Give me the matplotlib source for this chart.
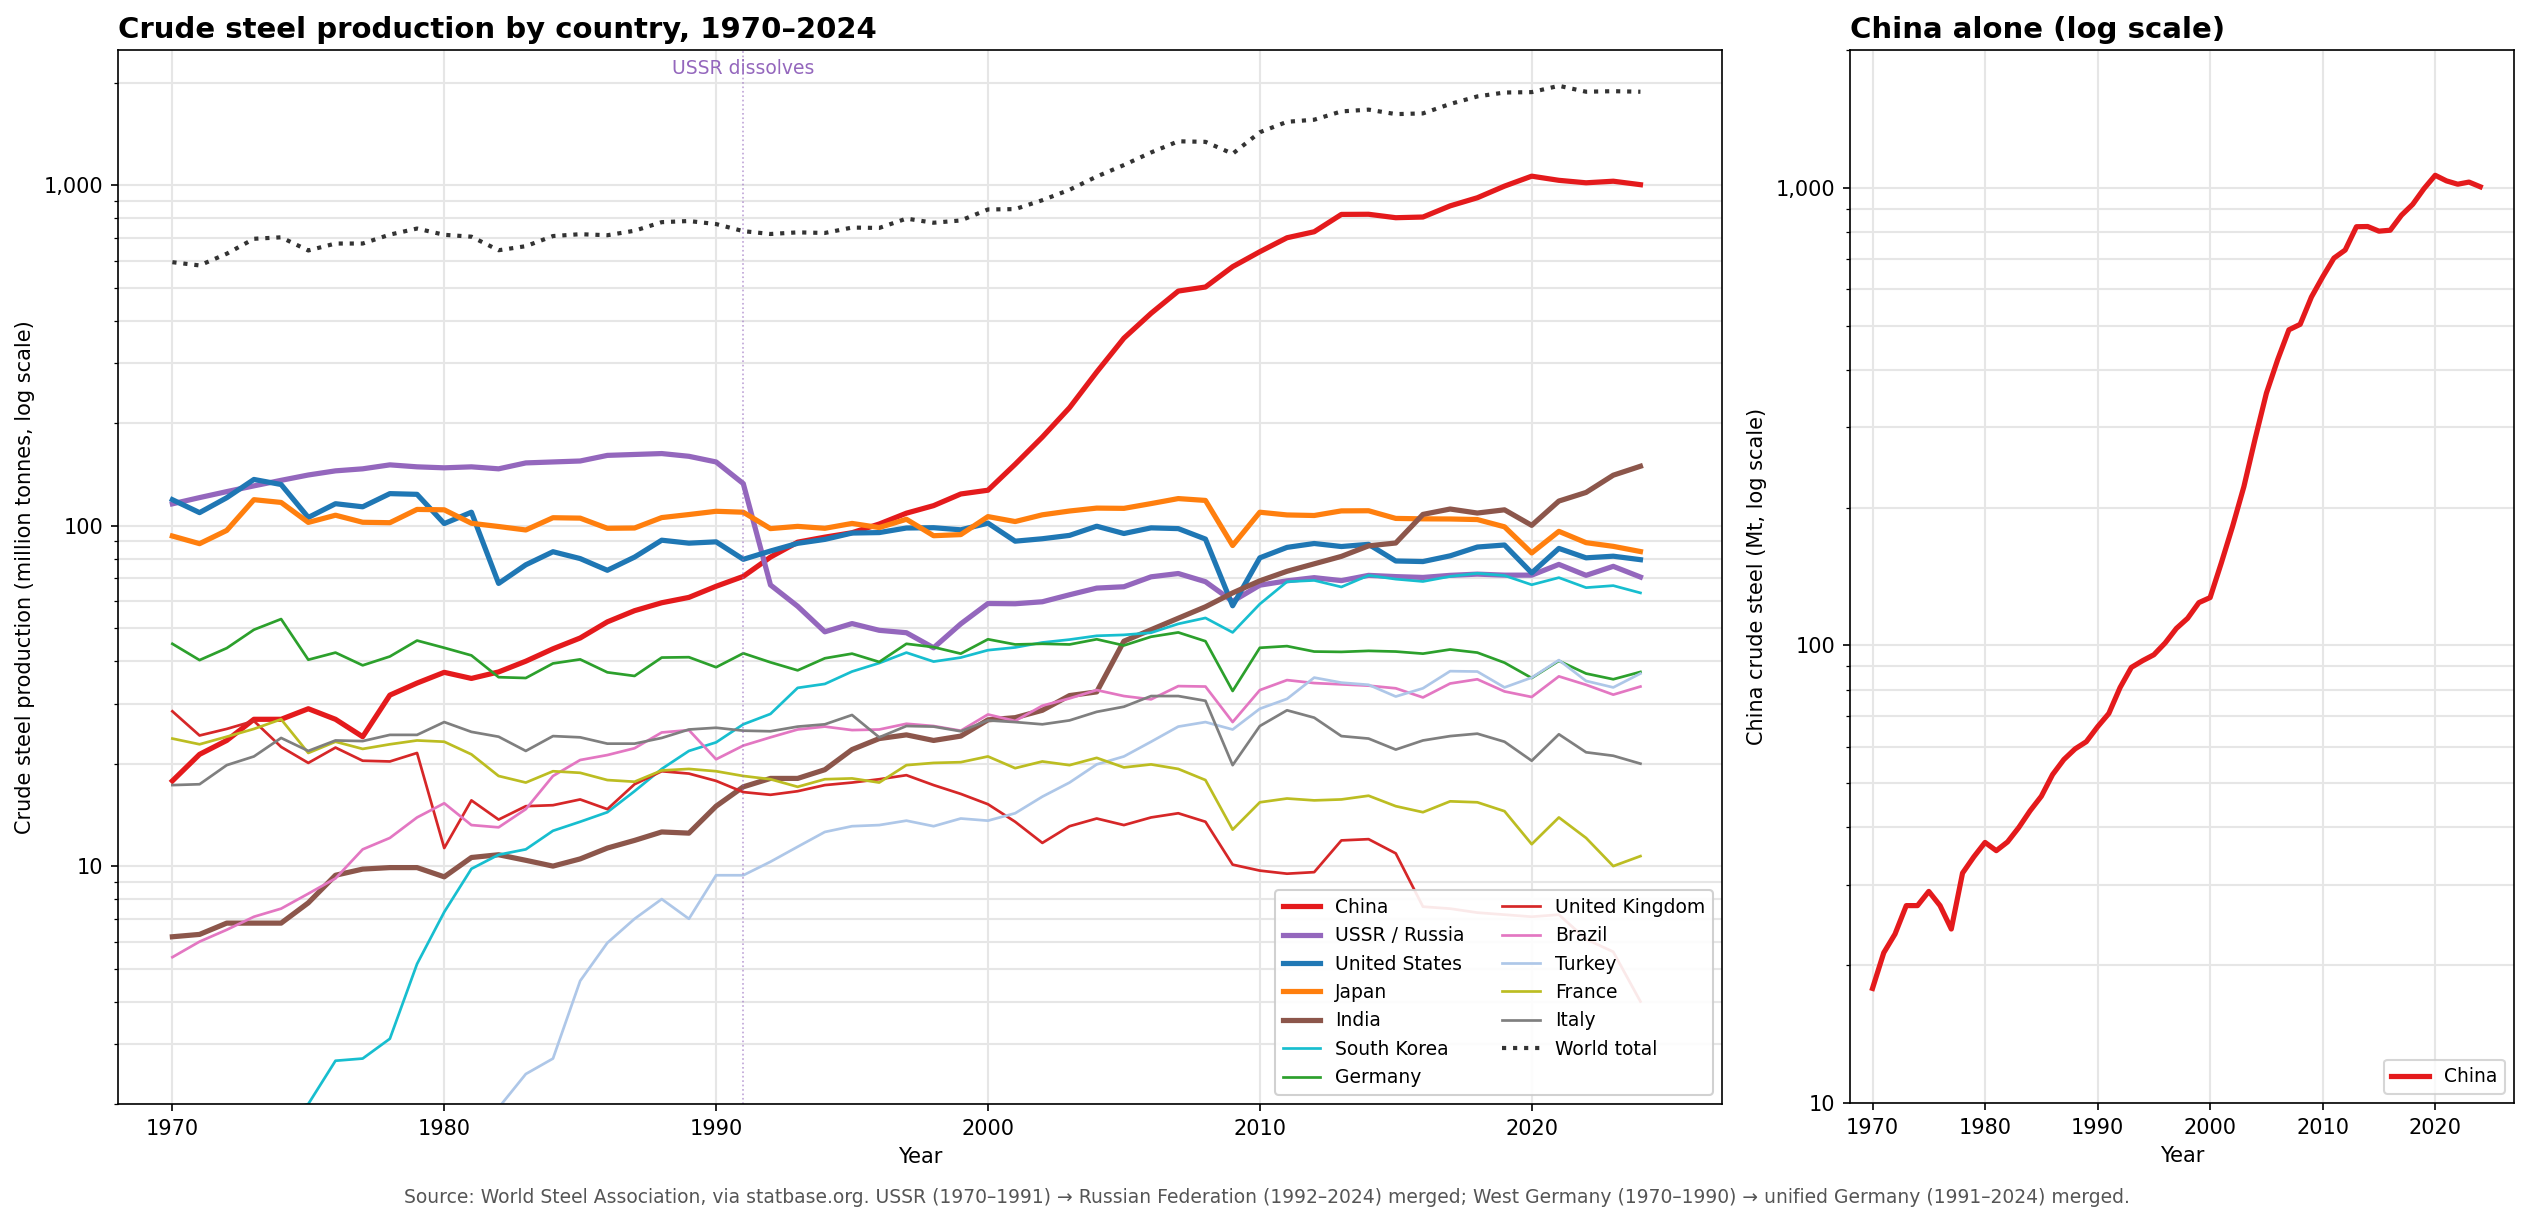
import numpy as np
import matplotlib
matplotlib.use("Agg")
import matplotlib.pyplot as plt
from matplotlib.ticker import FuncFormatter, LogLocator, NullFormatter

years = list(range(1970, 2025))

china = [17.8, 21.3, 23.4, 27.0, 27.0, 29.0, 27.0, 24.0, 31.8, 34.5,
         37.1, 35.6, 37.2, 40.0, 43.5, 46.8, 52.2, 56.3, 59.4, 61.6,
         66.4, 71.0, 80.9, 89.5, 92.6, 95.4, 101.2, 108.9, 114.6, 124.0,
         127.2, 151.6, 182.2, 222.3, 282.9, 355.8, 421.0, 489.3, 503.0, 577.1,
         638.7, 701.9, 731.0, 822.0, 822.8, 803.8, 807.6, 870.9, 920.0, 995.4,
         1064.7, 1035.2, 1018.0, 1029.0, 1005.1]
ussr_russia = [116, 121, 126, 131, 136, 141, 145, 147, 151, 149,
               148, 149, 147, 153, 154, 155, 161, 162, 163, 160,
               154, 133, 67, 58, 48.8, 51.6, 49.3, 48.5, 43.8, 51.5,
               59.1, 59.0, 59.8, 62.7, 65.6, 66.2, 70.8, 72.4, 68.5, 60.0,
               66.9, 68.9, 70.4, 69.0, 71.5, 70.9, 70.5, 71.5, 72.1, 71.6,
               71.6, 77.0, 71.5, 76.0, 70.7]
united_states = [119.3, 109.3, 120.9, 136.8, 132.2, 105.8, 116.1, 113.7, 124.3, 123.7,
                 101.5, 109.6, 67.7, 76.8, 83.9, 80.1, 74.0, 80.9, 90.7, 88.9,
                 89.7, 79.7, 84.3, 88.8, 91.2, 95.2, 95.5, 98.5, 98.7, 97.3,
                 101.8, 90.1, 91.6, 93.7, 99.7, 94.9, 98.6, 98.1, 91.4, 58.2,
                 80.5, 86.4, 88.7, 86.9, 88.2, 78.8, 78.5, 81.6, 86.6, 87.8,
                 72.7, 85.8, 80.5, 81.4, 79.5]
japan = [93.3, 88.6, 96.9, 119.3, 117.1, 102.3, 107.4, 102.4, 102.1, 111.7,
         111.4, 101.7, 99.5, 97.2, 105.6, 105.3, 98.3, 98.5, 105.7, 107.9,
         110.3, 109.6, 98.1, 99.6, 98.3, 101.6, 98.8, 104.5, 93.5, 94.2,
         106.4, 102.9, 107.7, 110.5, 112.7, 112.5, 116.2, 120.2, 118.7, 87.5,
         109.6, 107.6, 107.2, 110.6, 110.7, 105.1, 104.8, 104.7, 104.3, 99.3,
         83.2, 96.3, 89.2, 87.0, 84.0]
india = [6.2, 6.3, 6.8, 6.8, 6.8, 7.8, 9.4, 9.8, 9.9, 9.9,
         9.3, 10.6, 10.8, 10.4, 10.0, 10.5, 11.3, 11.9, 12.6, 12.5,
         15.0, 17.1, 18.1, 18.1, 19.2, 22.0, 23.7, 24.3, 23.4, 24.1,
         26.9, 27.3, 28.7, 31.7, 32.5, 45.8, 49.5, 53.5, 57.8, 63.5,
         68.9, 73.5, 77.3, 81.3, 87.3, 89.0, 108.0, 112.0, 109.0, 111.4,
         100.3, 118.2, 125.3, 140.8, 149.6]
south_korea = [0.5, 0.5, 0.6, 1.2, 1.9, 2.0, 2.68, 2.72, 3.11, 5.16,
               7.33, 9.82, 10.8, 11.2, 12.7, 13.5, 14.4, 16.6, 19.3, 21.8,
               23.1, 26.1, 28.0, 33.4, 34.3, 37.3, 39.5, 42.4, 39.9, 41.0,
               43.1, 43.9, 45.4, 46.3, 47.5, 47.8, 48.5, 51.5, 53.6, 48.6,
               58.9, 68.5, 69.1, 66.1, 71.5, 69.7, 68.6, 71.0, 72.5, 71.4,
               67.1, 70.4, 65.8, 66.7, 63.5]
germany = [45.0, 40.3, 43.7, 49.5, 53.2, 40.4, 42.4, 38.9, 41.3, 46.0,
           43.8, 41.6, 35.9, 35.7, 39.4, 40.5, 37.1, 36.2, 41.0, 41.1,
           38.4, 42.2, 39.7, 37.6, 40.8, 42.1, 39.8, 45.0, 44.0, 42.1,
           46.4, 44.8, 45.0, 44.8, 46.4, 44.5, 47.2, 48.6, 45.8, 32.7,
           43.8, 44.3, 42.7, 42.6, 42.9, 42.7, 42.1, 43.3, 42.4, 39.6,
           35.7, 40.1, 36.8, 35.4, 37.2]
united_kingdom = [28.5, 24.2, 25.3, 26.7, 22.4, 20.1, 22.3, 20.4, 20.3, 21.5,
                  11.3, 15.6, 13.7, 15.0, 15.1, 15.7, 14.7, 17.4, 19.0, 18.7,
                  17.8, 16.5, 16.2, 16.6, 17.3, 17.6, 18.0, 18.5, 17.3, 16.3,
                  15.2, 13.5, 11.7, 13.1, 13.8, 13.2, 13.9, 14.3, 13.5, 10.1,
                  9.7, 9.5, 9.6, 11.9, 12.0, 10.9, 7.6, 7.5, 7.3, 7.2,
                  7.1, 7.2, 6.1, 5.6, 4.0]
brazil = [5.4, 6.0, 6.5, 7.1, 7.5, 8.3, 9.2, 11.2, 12.1, 13.9,
          15.3, 13.2, 13.0, 14.7, 18.4, 20.5, 21.2, 22.2, 24.7, 25.1,
          20.6, 22.6, 23.9, 25.2, 25.7, 25.1, 25.2, 26.2, 25.8, 25.0,
          27.9, 26.7, 29.6, 31.1, 32.9, 31.6, 30.9, 33.8, 33.7, 26.5,
          32.9, 35.2, 34.5, 34.2, 33.9, 33.3, 31.3, 34.4, 35.4, 32.6,
          31.4, 36.1, 34.1, 31.9, 33.7]
turkey = [1.3, 1.3, 1.4, 1.4, 1.5, 1.6, 1.6, 1.6, 1.7, 1.7,
          1.7, 1.8, 1.95, 2.45, 2.72, 4.6, 5.95, 7.0, 8.0, 7.0,
          9.4, 9.4, 10.3, 11.4, 12.6, 13.1, 13.2, 13.6, 13.1, 13.8,
          13.6, 14.3, 16.0, 17.6, 19.9, 21.0, 23.2, 25.7, 26.5, 25.2,
          29.0, 31.0, 35.8, 34.6, 34.1, 31.5, 33.3, 37.4, 37.3, 33.5,
          35.8, 40.3, 35.0, 33.5, 36.8]
france = [23.7, 22.8, 24.0, 25.3, 27.0, 21.5, 23.2, 22.1, 22.8, 23.4,
          23.2, 21.3, 18.4, 17.6, 19.0, 18.8, 17.9, 17.7, 19.1, 19.3,
          19.0, 18.4, 18.0, 17.1, 18.0, 18.1, 17.6, 19.8, 20.1, 20.2,
          21.0, 19.4, 20.3, 19.8, 20.8, 19.5, 19.9, 19.3, 17.9, 12.8,
          15.4, 15.8, 15.6, 15.7, 16.1, 15.0, 14.4, 15.5, 15.4, 14.5,
          11.6, 13.9, 12.1, 10.0, 10.7]
italy = [17.3, 17.4, 19.8, 21.0, 23.8, 21.8, 23.4, 23.3, 24.3, 24.3,
         26.5, 24.8, 24.0, 21.8, 24.1, 23.9, 22.9, 22.9, 23.8, 25.2,
         25.5, 25.0, 24.9, 25.7, 26.1, 27.8, 23.9, 25.8, 25.7, 24.9,
         26.8, 26.5, 26.1, 26.8, 28.4, 29.4, 31.6, 31.6, 30.6, 19.8,
         25.8, 28.7, 27.3, 24.1, 23.7, 22.0, 23.4, 24.1, 24.5, 23.2,
         20.4, 24.4, 21.6, 21.1, 20.0]
world_total = [595, 582, 630, 697, 704, 644, 675, 675, 717, 747,
               716, 707, 645, 663, 710, 719, 714, 736, 780, 786,
               770, 734, 720, 728, 725, 752, 750, 799, 777, 789,
               850, 852, 905, 971, 1062, 1148, 1250, 1348, 1343, 1239,
               1433, 1538, 1560, 1650, 1670, 1620, 1628, 1735, 1826, 1875,
               1880, 1962, 1885, 1892, 1885]

series = [
    ("China", china, "#e41a1c", 2.5),
    ("USSR / Russia", ussr_russia, "#9467bd", 2.5),
    ("United States", united_states, "#1f77b4", 2.5),
    ("Japan", japan, "#ff7f0e", 2.5),
    ("India", india, "#8c564b", 2.5),
    ("South Korea", south_korea, "#17becf", 1.3),
    ("Germany", germany, "#2ca02c", 1.3),
    ("United Kingdom", united_kingdom, "#d62728", 1.3),
    ("Brazil", brazil, "#e377c2", 1.3),
    ("Turkey", turkey, "#aec7e8", 1.3),
    ("France", france, "#bcbd22", 1.3),
    ("Italy", italy, "#7f7f7f", 1.3),
]

W, H, DPI = 2533, 1223, 150
fig = plt.figure(figsize=(W / DPI, H / DPI), dpi=DPI)

ax1 = fig.add_axes([118 / W, 119 / H, (1722 - 118) / W, (1104 - 50) / H])
ax2 = fig.add_axes([1850 / W, 120 / H, (2514 - 1850) / W, (1103 - 50) / H])

comma = FuncFormatter(lambda v, p: f"{v:,.0f}")

for name, vals, col, lw in series:
    ax1.plot(years, vals, color=col, lw=lw, label=name)
ax1.plot(years, world_total, color="#333333", lw=2.0, ls=":", label="World total")

ax1.axvline(1991, color="#9467bd", lw=0.8, ls=":", alpha=0.6)
ax1.text(1991, 2350, "USSR dissolves", color="#9467bd", ha="center", va="top", fontsize=9)

for ax in (ax1, ax2):
    ax.set_yscale("log")
    ax.set_xlim(1968, 2027)
    ax.yaxis.set_major_formatter(comma)
    ax.yaxis.set_minor_formatter(NullFormatter())
    ax.set_xticks([1970, 1980, 1990, 2000, 2010, 2020])
    ax.grid(True, which="major", axis="both", color="#e6e6e6", lw=1.0)
    ax.grid(True, which="minor", axis="y", color="#e6e6e6", lw=1.0)
    ax.set_axisbelow(True)
    ax.set_xlabel("Year")

ax1.set_ylim(2, 2500)
ax1.set_ylabel("Crude steel production (million tonnes, log scale)")
ax1.set_title("Crude steel production by country, 1970\u20132024", loc="left",
              fontsize=14, fontweight="bold")
ax1.legend(loc="lower right", ncol=2, fontsize=9, framealpha=0.9)

ax2.plot(years, china, color="#e41a1c", lw=2.5, label="China")
ax2.set_ylim(10, 2000)
ax2.set_ylabel("China crude steel (Mt, log scale)")
ax2.set_title("China alone (log scale)", loc="left", fontsize=14, fontweight="bold")
ax2.legend(loc="lower right", fontsize=9)

fig.text(0.5, 26 / H,
         "Source: World Steel Association, via statbase.org. USSR (1970\u20131991) \u2192 Russian Federation "
         "(1992\u20132024) merged; West Germany (1970\u20131990) \u2192 unified Germany (1991\u20132024) merged.",
         ha="center", va="center", fontsize=9, color="#555555")

fig.savefig("out.png", dpi=DPI)
